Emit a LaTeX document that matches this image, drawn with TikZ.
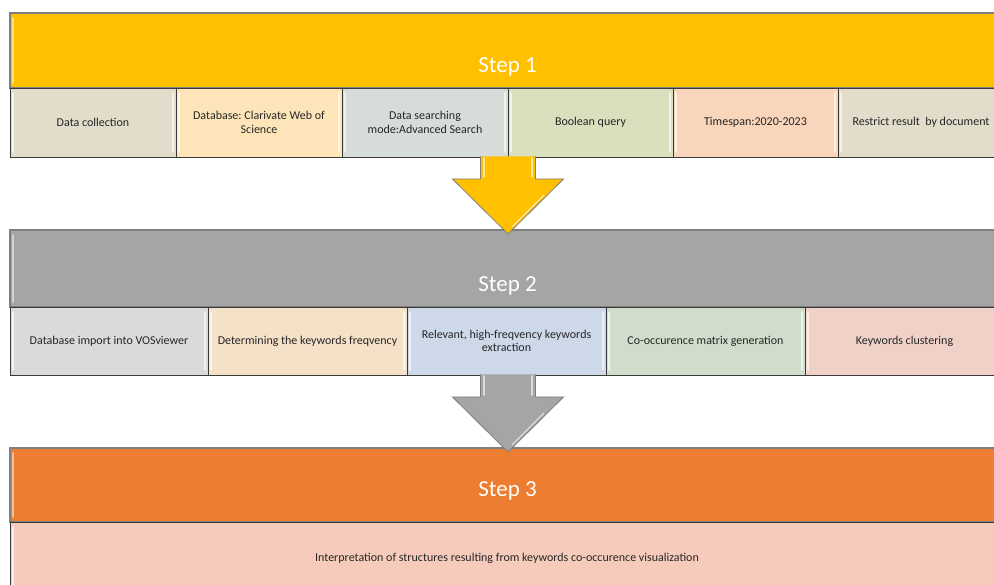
\documentclass[tikz,border=0pt]{standalone}
\usepackage{fontspec}
\setmainfont{Carlito}
\usetikzlibrary{calc}
\definecolor{hdrgold}{HTML}{FFC000}
\definecolor{hdrgray}{HTML}{A5A5A5}
\definecolor{hdrorange}{HTML}{ED7D31}
\definecolor{edgegray}{HTML}{7F7F7F}
\definecolor{celledge}{HTML}{3A3A3A}
\definecolor{txt}{HTML}{262626}
\definecolor{cA}{HTML}{E2DDCB}
\definecolor{cB}{HTML}{FEE5B9}
\definecolor{cC}{HTML}{D6DCD8}
\definecolor{cD}{HTML}{D8E0BD}
\definecolor{cE}{HTML}{F8D5BB}
\definecolor{dA}{HTML}{DADADA}
\definecolor{dB}{HTML}{F4E1C7}
\definecolor{dC}{HTML}{CDD8E9}
\definecolor{dD}{HTML}{D0DDCB}
\definecolor{dE}{HTML}{EFD1C7}
\definecolor{eA}{HTML}{F6CBBB}
\tikzset{
  bevel/.style={path picture={
    \draw[white,opacity=.65,line width=1.6pt,line cap=round]
      ([xshift=3pt,yshift=-5pt]path picture bounding box.north west) --
      ([xshift=3pt,yshift=5pt]path picture bounding box.south west);
    \draw[white,opacity=.65,line width=1.6pt,line cap=round]
      ([xshift=-3pt,yshift=-5pt]path picture bounding box.north east) --
      ([xshift=-3pt,yshift=5pt]path picture bounding box.south east);}},
  hdrbox/.style={draw=edgegray,line width=1.3pt,anchor=north west,inner sep=0pt,outer sep=0pt,
    minimum width=994pt,path picture={
    \draw[white,opacity=.5,line width=1.6pt,line cap=round]
      ([xshift=3pt,yshift=-5pt]path picture bounding box.north west) --
      ([xshift=3pt,yshift=5pt]path picture bounding box.south west);}},
  cellbox/.style={draw=celledge,line width=0.8pt,anchor=north west,inner sep=0pt,outer sep=0pt,
    align=center,text=txt,font=\fontsize{12}{13.5}\selectfont,bevel},
  steptxt/.style={anchor=base,text=white,font=\fontsize{23}{27}\selectfont,inner sep=0pt},
  blockarrow/.style={draw=edgegray,line width=0.8pt,line join=miter},
  shine/.style={white,opacity=.6,line width=1.3pt,line cap=round}
}
\begin{document}
\frenchspacing
\begin{tikzpicture}[x=1pt,y=-1pt]
\useasboundingbox (0,0) rectangle (994,585);
\clip (0,0) rectangle (994,585);
% Step 1
\node[hdrbox,fill=hdrgold,minimum height=75pt] (h1) at (10,13) {};
\node[steptxt] (t1) at (507.5,73) {Step 1};
\node[cellbox,fill=cA,minimum width=166pt,minimum height=69pt] (c11) at (10,88) {Data collection};
\node[cellbox,fill=cB,minimum width=166pt,minimum height=69pt] (c12) at (176,88) {Database: Clarivate Web of\\Science};
\node[cellbox,fill=cC,minimum width=166pt,minimum height=69pt] (c13) at (342,88) {Data searching\\mode:Advanced Search};
\node[cellbox,fill=cD,minimum width=165pt,minimum height=69pt] (c14) at (508,88) {Boolean query};
\node[cellbox,fill=cE,minimum width=165pt,minimum height=69pt] (c15) at (673,88) {Timespan:2020-2023};
\node[cellbox,fill=cA,minimum width=166pt,minimum height=69pt] (c16) at (838,88) {Restrict result\ \ by document};
% Step 2
\node[hdrbox,fill=hdrgray,minimum height=77pt] (h2) at (10,230) {};
\node[steptxt] (t2) at (507.5,292) {Step 2};
\node[cellbox,fill=dA,minimum width=198pt,minimum height=68pt] (c21) at (10,307) {Database import into VOSviewer};
\node[cellbox,fill=dB,minimum width=199pt,minimum height=68pt] (c22) at (208,307) {Determining the keywords freqvency};
\node[cellbox,fill=dC,minimum width=199pt,minimum height=68pt] (c23) at (407,307) {Relevant, high-freqvency keywords\\extraction};
\node[cellbox,fill=dD,minimum width=199pt,minimum height=68pt] (c24) at (606,307) {Co-occurence matrix generation};
\node[cellbox,fill=dE,minimum width=199pt,minimum height=68pt] (c25) at (805,307) {Keywords clustering};
% Step 3
\node[hdrbox,fill=hdrorange,minimum height=74pt] (h3) at (10,448) {};
\node[steptxt] (t3) at (507.5,496) {Step 3};
\node[cellbox,fill=eA,minimum width=994pt,minimum height=72pt] (c31) at (10,522) {Interpretation of structures resulting from keywords co-occurence visualization};
% arrows
\foreach \hd/\fc in {h2/hdrgold,h3/hdrgray}{
  \coordinate (tip) at ($(\hd.north)+(1,4)$);
  \fill[\fc] (tip) -- ($(tip)+(55.5,-55)$) -- ($(tip)+(27.5,-55)$) -- ($(tip)+(27.5,-77.5)$)
     -- ($(tip)+(-27.5,-77.5)$) -- ($(tip)+(-27.5,-55)$) -- ($(tip)+(-55.5,-55)$) -- cycle;
  \draw[blockarrow] ($(tip)+(27.5,-77.5)$) -- ($(tip)+(27.5,-55)$) -- ($(tip)+(55.5,-55)$) -- (tip)
     -- ($(tip)+(-55.5,-55)$) -- ($(tip)+(-27.5,-55)$) -- ($(tip)+(-27.5,-77.5)$);
  \draw[shine] ($(tip)+(-24,-76)$) -- ($(tip)+(-24,-57)$);
  \draw[shine] ($(tip)+(24,-76)$) -- ($(tip)+(24,-57)$);
  \draw[shine] ($(tip)+(36,-39)$) -- ($(tip)+(4,-7)$);
}
\end{tikzpicture}
\end{document}
